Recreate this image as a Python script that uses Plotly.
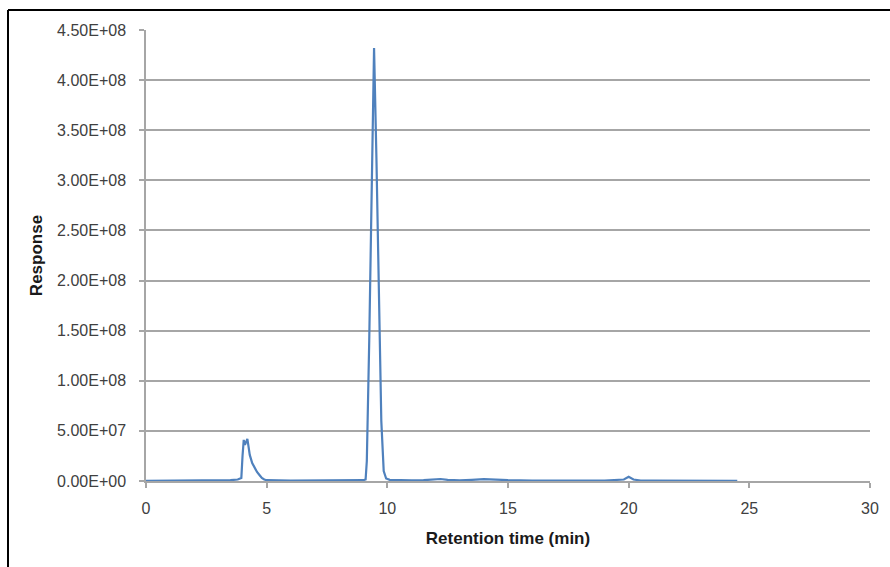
import plotly.graph_objects as go

time_min = [0, 1, 2, 3, 3.5, 3.8, 3.95, 4.0, 4.05, 4.1, 4.15, 4.2, 4.25, 4.3, 4.4, 4.5,
            4.6, 4.7, 4.8, 4.9, 5.0, 6, 7, 8, 8.8, 9.0, 9.1, 9.15, 9.25, 9.35, 9.45,
            9.55, 9.65, 9.75, 9.85, 9.95, 10.1, 10.5, 11, 11.5, 12.0, 12.2, 12.5, 13,
            13.5, 14.0, 14.5, 15, 16, 17, 18, 19, 19.8, 20.0, 20.2, 20.5, 21, 22, 23, 24, 24.5]
response = [2e5, 2e5, 3e5, 5e5, 8e5, 1.5e6, 3e6, 2.5e7, 4.1e7, 3.6e7, 4.0e7, 4.2e7, 3.4e7, 2.6e7, 1.8e7, 1.3e7,
            9e6, 6e6, 3e6, 1.5e6, 8e5, 4e5, 3e5, 3e5, 5e5, 8e5, 1.5e6, 2e7, 1.4e8, 3.0e8, 4.32e8,
            3.2e8, 1.8e8, 6e7, 1e7, 2.5e6, 1.2e6, 8e5, 6e5, 8e5, 1.6e6, 2.0e6, 1.2e6, 6e5,
            1.2e6, 1.8e6, 1.4e6, 8e5, 4e5, 3e5, 3e5, 4e5, 1.5e6, 4.2e6, 1.5e6, 5e5, 3e5, 2e5, 2e5, 2e5, 2e5]

y_ticks = [0, 5e7, 1e8, 1.5e8, 2e8, 2.5e8, 3e8, 3.5e8, 4e8, 4.5e8]
y_tick_labels = ["0.00E+00", "5.00E+07", "1.00E+08", "1.50E+08", "2.00E+08",
                 "2.50E+08", "3.00E+08", "3.50E+08", "4.00E+08", "4.50E+08"]
x_ticks = [0, 5, 10, 15, 20, 25, 30]

grid = "#a6a6a6"
font = "Liberation Sans"

fig = go.Figure()
fig.add_trace(go.Scatter(x=time_min, y=response, mode="lines",
                         line=dict(color="#4f81bd", width=2.2), showlegend=False))

fig.update_layout(
    width=890, height=567,
    margin=dict(l=146, r=20, t=30, b=86),
    paper_bgcolor="white", plot_bgcolor="white",
    font=dict(family=font, size=16, color="#404040"),
    xaxis=dict(range=[0, 30], tickvals=x_ticks, showgrid=False, zeroline=False,
               showline=True, linecolor=grid, linewidth=1.5,
               ticks="outside", ticklen=5, tickcolor=grid, tickwidth=1.5,
               ticklabelstandoff=7,
               title=dict(text="<b>Retention time (min)</b>", standoff=16,
                          font=dict(family=font, size=17, color="#1a1a1a"))),
    yaxis=dict(range=[0, 4.5e8], tickvals=y_ticks, ticktext=y_tick_labels,
               showgrid=True, gridcolor=grid, gridwidth=1.5, zeroline=False,
               showline=True, linecolor=grid, linewidth=1.5,
               ticks="outside", ticklen=5, tickcolor=grid, tickwidth=1.5,
               ticklabelstandoff=10,
               title=dict(text="<b>Response</b>", standoff=10,
                          font=dict(family=font, size=17, color="#1a1a1a"))),
)

fig.add_shape(type="line", xref="paper", yref="paper",
              x0=(8 - 146) / 724, x1=1.1, y0=(481 - 10) / 451, y1=(481 - 10) / 451,
              line=dict(color="black", width=2))
fig.add_shape(type="line", xref="paper", yref="paper",
              x0=(8 - 146) / 724, x1=(8 - 146) / 724, y0=(481 - 10) / 451, y1=-0.3,
              line=dict(color="black", width=2))

fig.write_html("out.html")
